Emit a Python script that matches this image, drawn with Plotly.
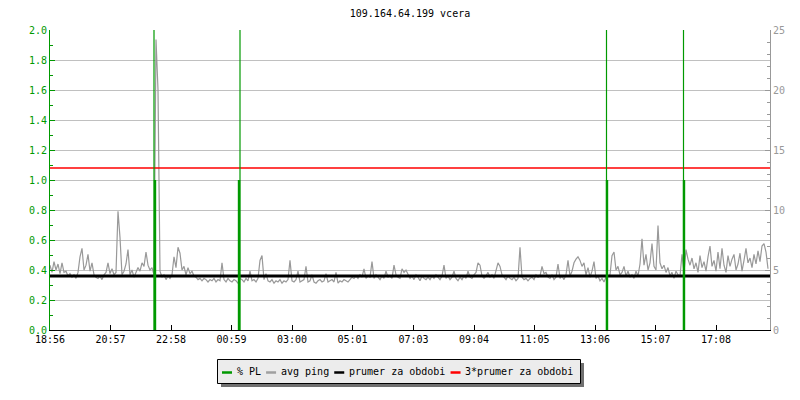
import plotly.graph_objects as go
from datetime import datetime, timedelta

# ---------------- data ----------------
title_text = "109.164.64.199 vcera"
start_day = datetime(2024, 1, 1, 18, 56)
step_minutes = 4

avg_ping = [
    5.4, 4.8, 5.7, 5.0, 5.5, 4.7, 5.6, 4.8, 4.9, 4.5,
    4.7, 4.4, 4.6, 4.3, 4.8, 6.1, 6.8, 5.0, 5.4, 6.3,
    4.9, 5.6, 4.6, 4.4, 4.3, 4.5, 4.2, 4.6, 4.8, 5.6,
    4.7, 5.1, 4.6, 4.8, 9.9, 7.7, 4.6, 4.9, 5.5, 6.7,
    4.6, 5.0, 4.4, 4.8, 5.2, 4.9, 5.6, 5.3, 6.5, 5.4,
    5.0, 5.2, 4.6, 24.2, 20.0, 4.9, 4.4, 4.6, 4.2, 4.5,
    4.3, 4.6, 6.1, 5.2, 6.9, 6.4, 5.0, 5.3, 4.6, 5.2,
    4.7, 4.9, 4.5, 4.4, 4.2, 4.3, 4.1, 4.3, 4.2, 4.0,
    4.2, 4.1, 4.3, 4.0, 4.2, 4.1, 5.6, 4.2, 4.0, 4.3,
    4.1, 4.0, 4.2, 4.1, 3.9, 4.3, 4.2, 4.0, 4.3, 4.1,
    4.9, 4.1, 4.2, 4.0, 4.3, 5.8, 6.2, 4.2, 4.7, 4.1,
    4.0, 4.2, 3.9, 4.1, 4.0, 4.2, 3.9, 4.1, 4.0, 4.2,
    5.8, 4.1, 4.0, 4.2, 4.9, 4.0, 4.1, 4.2, 5.3, 4.0,
    4.1, 4.6, 4.0, 3.9, 4.1, 4.2, 4.0, 4.1, 4.7, 4.0,
    4.1, 4.2, 4.0, 4.8, 3.9, 4.1, 4.0, 4.2, 4.1, 4.0,
    4.2, 4.4, 4.3, 4.5, 4.3, 4.6, 4.4, 5.1, 4.3, 4.5,
    4.4, 5.7, 4.3, 4.6, 4.4, 4.2, 4.5, 4.3, 4.9, 4.4,
    4.5, 4.3, 5.4, 4.6, 4.4, 4.3, 5.1, 4.8, 5.0, 4.6,
    4.3, 4.5, 4.2, 4.6, 4.4, 4.1, 4.5, 4.3, 4.2, 4.4,
    4.2, 4.5, 4.3, 4.6, 4.4, 4.2, 4.5, 5.4, 4.3, 4.5,
    4.2, 4.4, 4.9, 4.3, 4.1, 4.4, 4.2, 4.5, 4.3, 4.9,
    4.4, 4.3, 4.6, 4.8, 5.6, 5.4, 4.5, 4.3, 4.5, 4.8,
    4.4, 4.6, 4.3, 5.1, 5.6, 5.3, 4.6, 4.4, 4.2, 4.5,
    4.3, 4.2, 4.4, 4.1, 4.3, 6.9, 4.4, 4.2, 4.3, 4.1,
    4.3, 4.4, 4.2, 4.6, 4.4, 4.5, 5.3, 4.7, 4.8, 4.4,
    4.3, 4.6, 4.2, 4.4, 5.5, 4.3, 4.5, 4.2, 4.6, 5.8,
    4.5, 4.9, 5.6, 5.9, 6.1, 5.8, 5.3, 5.6, 4.6, 5.2,
    4.4, 4.9, 5.7, 4.3, 4.5, 4.1, 4.3, 4.0, 4.4, 4.5,
    4.6, 6.2, 6.5, 5.0, 5.3, 4.6, 4.8, 5.3, 4.5, 4.9,
    4.4, 4.6, 4.3, 4.9, 4.5, 5.5, 7.6, 5.4, 6.3, 5.0,
    5.6, 7.2, 5.3, 5.0, 8.7, 5.6, 5.1, 5.4, 4.8, 5.2,
    4.5, 4.8, 4.3, 4.9, 4.6, 4.5, 6.3, 4.8, 6.7, 5.9,
    5.4, 6.0, 5.1, 5.6, 4.8, 6.2, 5.2, 5.7, 4.9, 6.1,
    7.0, 5.3, 5.8, 4.9, 6.5, 5.1, 6.8, 5.4, 4.8, 6.2,
    5.3, 5.9, 6.3, 5.0, 5.5, 6.4, 4.9, 5.8, 6.8, 5.6,
    6.0, 5.2, 6.3, 5.5, 6.6, 5.7, 7.0, 7.2, 6.5, 5.1,
]
avg_ping_mean = 4.5            # "prumer za obdobi" (ms)
mean_multiplier = 3            # "3*prumer za obdobi"

pl_times = ["22:24", "22:26", "01:16", "01:14", "13:29", "13:30", "16:03", "16:04"]
pl_values = [100, 1.0, 100, 1.0, 100, 1.0, 100, 1.0]   # % PL

tick_labels = ["18:56", "20:57", "22:58", "00:59", "03:00", "05:01",
               "07:03", "09:04", "11:05", "13:06", "15:07", "17:08"]

legend_names = ["% PL", "avg ping", "prumer za obdobi", "3*prumer za obdobi"]

pl_range = [0, 2.0]
ping_range = [0, 25]

# ---------------- helpers ----------------
def clock_to_dt(label):
    h, m = map(int, label.split(":"))
    dt = start_day.replace(hour=h, minute=m)
    if dt < start_day:
        dt += timedelta(days=1)
    return dt

times = [start_day + timedelta(minutes=step_minutes * i) for i in range(len(avg_ping))]
x_end = start_day + timedelta(days=1)
tick_vals = [clock_to_dt(t) for t in tick_labels]

GREEN = "#009900"
GRAY = "#999999"
PING_GRAY = "#999999"
FONT = "DejaVu Sans Mono"
legend_colors = [GREEN, "#a0a0a0", "black", "#ff0000"]

fig = go.Figure()

# avg ping (right axis, primary y)
fig.add_trace(go.Scatter(x=times, y=avg_ping, mode="lines", name="avg ping",
                         line=dict(color=PING_GRAY, width=1.2), yaxis="y",
                         showlegend=False, hoverinfo="skip"))
# mean and 3*mean
fig.add_trace(go.Scatter(x=[start_day, x_end], y=[avg_ping_mean] * 2, mode="lines",
                         line=dict(color="black", width=3), yaxis="y",
                         showlegend=False, hoverinfo="skip"))
fig.add_trace(go.Scatter(x=[start_day, x_end], y=[avg_ping_mean * mean_multiplier] * 2,
                         mode="lines", line=dict(color="#ff0000", width=1.5), yaxis="y",
                         showlegend=False, hoverinfo="skip"))

# % PL impulses (left axis)
for thick in (False, True):
    xs, ys = [], []
    for t, v in zip(pl_times, pl_values):
        if (v <= pl_range[1]) == thick:
            d = clock_to_dt(t)
            xs += [d, d, None]
            ys += [0, v, None]
    fig.add_trace(go.Scatter(x=xs, y=ys, mode="lines", yaxis="y2",
                             line=dict(color=GREEN, width=2.4 if thick else 1.2),
                             showlegend=False, hoverinfo="skip", cliponaxis=True))

# plot area in pixels (for the hand-built legend box below the plot)
ML, MR, MT, MB, W, H = 50, 30, 30, 70, 800, 400
PW, PH = W - ML - MR, H - MT - MB

def px(x):
    return (x - ML) / PW

def py(y):
    return (H - MB - y) / PH

fig.update_layout(
    width=W, height=H,
    margin=dict(l=ML, r=MR, t=MT, b=MB),
    paper_bgcolor="white", plot_bgcolor="white",
    font=dict(family=FONT, size=10, color="black"),
    title=dict(text=title_text, x=0.5, xref="paper", y=1 - 13 / H,
               yanchor="middle", xanchor="center",
               font=dict(family=FONT, size=10, color="black")),
    showlegend=False,
    xaxis=dict(type="date", range=[start_day, x_end], tickvals=tick_vals,
               ticktext=tick_labels, ticks="inside", ticklen=5, tickcolor="black",
               showline=True, linecolor="black", linewidth=1, showgrid=False,
               zeroline=False, tickfont=dict(color="black", size=10, family=FONT)),
    yaxis=dict(range=ping_range, side="right", dtick=5, ticks="inside", ticklen=5,
               tickcolor=GRAY, showline=True, linecolor=GRAY, linewidth=1,
               showgrid=False, zeroline=False,
               tickfont=dict(color=GRAY, size=10, family=FONT),
               minor=dict(dtick=1, ticks="inside", ticklen=3, tickcolor=GRAY, showgrid=False)),
    yaxis2=dict(range=pl_range, side="left", overlaying="y", dtick=0.2, tickformat=".1f",
                ticks="inside", ticklen=5, tickcolor=GREEN, showline=True,
                linecolor=GREEN, linewidth=1, showgrid=True, gridcolor="#c0c0c0",
                gridwidth=1, zeroline=False,
                tickfont=dict(color=GREEN, size=10, family=FONT),
                minor=dict(dtick=0.1, ticks="inside", ticklen=3, tickcolor=GREEN, showgrid=False)),
)

# ---- legend box with shadow ----
box = (217.5, 359.5, 580.5, 383.5)
sh = 3.5
fig.add_shape(type="rect", xref="paper", yref="paper", layer="above",
              x0=px(box[0] + sh), x1=px(box[2] + sh), y0=py(box[3] + sh), y1=py(box[1] + sh),
              fillcolor="#707070", line=dict(width=0))
fig.add_shape(type="rect", xref="paper", yref="paper", layer="above",
              x0=px(box[0]), x1=px(box[2]), y0=py(box[3]), y1=py(box[1]),
              fillcolor="#ececec", line=dict(color="black", width=1))

CH = 6.02
cx = 222.0
ymid = 371.5
for name, col in zip(legend_names, legend_colors):
    fig.add_shape(type="line", xref="paper", yref="paper", layer="above",
                  x0=px(cx), x1=px(cx + 10), y0=py(ymid + 1), y1=py(ymid + 1),
                  line=dict(color=col, width=2.5))
    tx = cx + 14.5
    fig.add_annotation(xref="paper", yref="paper", x=px(tx), y=py(ymid),
                       xanchor="left", yanchor="middle", text=name, showarrow=False,
                       borderpad=0, borderwidth=0,
                       font=dict(family=FONT, size=10, color="black"))
    cx = tx + len(name) * CH + 5.5

fig.write_html("out.html", post_script="document.body.style.margin='0';",
               config={"displayModeBar": False})
